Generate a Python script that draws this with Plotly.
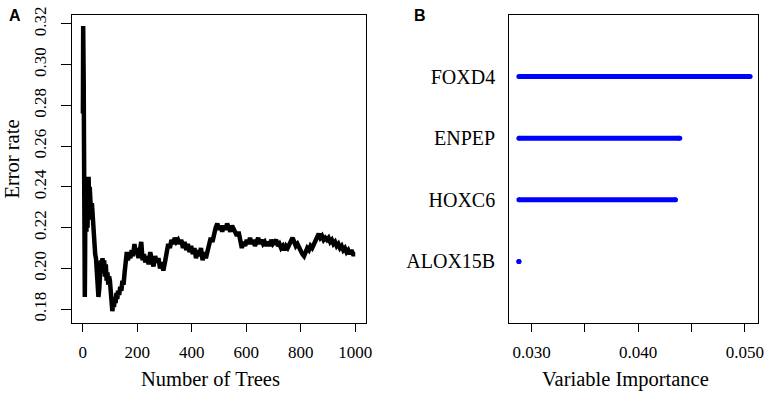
import plotly.graph_objects as go

# ---------------- Panel A data: OOB error rate vs number of trees ----------------
trees = [1, 2, 3, 4, 5, 6, 7, 8, 9, 10, 11, 12, 13, 14, 15, 16, 17, 18, 19, 20,
         22, 24, 26, 28, 30, 32, 34, 36, 38, 40,
         43, 46, 49, 52, 55, 58, 61, 64, 67, 70,
         73, 76, 79, 82, 85, 88, 91, 94, 97, 100,
         103, 106, 109, 112, 115, 118, 121, 124, 127, 130,
         134, 138, 142, 146, 150, 154, 158, 162, 166, 170,
         175, 180, 185, 190, 195, 200, 205, 210, 215, 220, 225, 230,
         236, 242, 248, 254, 260, 266, 272, 278, 284, 290, 296,
         302, 308, 314, 320, 326, 332, 338, 344, 350,
         356, 362, 368, 374, 380, 386, 392, 398, 404,
         410, 416, 422, 428, 434, 440, 446, 452, 458,
         464, 470, 476, 482, 488, 494, 500, 506, 512,
         518, 524, 530, 536, 542, 548, 554, 560, 566,
         572, 578, 584, 590, 596, 602, 608, 614, 620,
         626, 632, 638, 644, 650, 656, 662, 668, 674,
         680, 686, 692, 698, 704, 710, 716, 722, 728,
         734, 740, 746, 752, 758, 764, 770, 776, 782,
         788, 794, 800, 806, 812, 818, 824, 830, 836,
         842, 848, 854, 860, 866, 872, 878, 884, 890,
         896, 902, 908, 914, 920, 926, 932, 938, 944,
         950, 956, 962, 968, 974, 980, 986, 992, 1000]

error_rate = [0.276, 0.319, 0.300, 0.290, 0.262, 0.240, 0.210, 0.186, 0.205, 0.235,
              0.242, 0.222, 0.238, 0.218, 0.244, 0.225, 0.240, 0.220, 0.236, 0.228,
              0.245, 0.226, 0.240, 0.230, 0.236, 0.224, 0.232, 0.226, 0.222, 0.218,
              0.212, 0.207, 0.205, 0.200, 0.194, 0.186, 0.190, 0.200, 0.204, 0.202,
              0.205, 0.198, 0.204, 0.196, 0.202, 0.194, 0.198, 0.192, 0.196, 0.194,
              0.188, 0.184, 0.179, 0.183, 0.181, 0.186, 0.183, 0.188, 0.185, 0.189,
              0.187, 0.191, 0.189, 0.194, 0.192, 0.198, 0.203, 0.208, 0.204, 0.207,
              0.205, 0.209, 0.206, 0.212, 0.207, 0.210, 0.205, 0.208, 0.213, 0.204, 0.207, 0.203,
              0.206, 0.202, 0.208, 0.204, 0.201, 0.206, 0.203, 0.205, 0.200, 0.203, 0.199,
              0.203, 0.208, 0.212, 0.210, 0.214, 0.212, 0.215, 0.213, 0.214,
              0.212, 0.214, 0.210, 0.213, 0.209, 0.212, 0.208, 0.211, 0.207,
              0.210, 0.205, 0.209, 0.206, 0.210, 0.204, 0.208, 0.205, 0.209,
              0.212, 0.215, 0.213, 0.217, 0.220, 0.222, 0.219, 0.221, 0.218,
              0.221, 0.219, 0.222, 0.220, 0.218, 0.221, 0.219, 0.217, 0.216,
              0.218, 0.214, 0.210, 0.213, 0.211, 0.214, 0.212, 0.215, 0.212,
              0.214, 0.211, 0.213, 0.215, 0.212, 0.214, 0.212, 0.213, 0.211,
              0.213, 0.211, 0.214, 0.212, 0.213, 0.214, 0.211, 0.212, 0.210,
              0.211, 0.209, 0.211, 0.210, 0.212, 0.213, 0.215, 0.213, 0.211,
              0.212, 0.210, 0.209, 0.207, 0.206, 0.208, 0.210, 0.209, 0.211,
              0.210, 0.212, 0.214, 0.216, 0.217, 0.215, 0.216, 0.214, 0.215,
              0.214, 0.215, 0.213, 0.214, 0.212, 0.213, 0.211, 0.212, 0.210,
              0.211, 0.209, 0.210, 0.208, 0.209, 0.207, 0.209, 0.207, 0.207]

a_xticks = [0, 200, 400, 600, 800, 1000]
a_yticks = [0.18, 0.20, 0.22, 0.24, 0.26, 0.28, 0.30, 0.32]

# ---------------- Panel B data: variable importance ----------------
genes = ["ALOX15B", "HOXC6", "ENPEP", "FOXD4"]
importance = [0.0288, 0.0435, 0.0439, 0.0505]
b_xticks = [0.030, 0.035, 0.040, 0.045, 0.050]
b_xticklabels = ["0.030", "", "0.040", "", "0.050"]

SERIF = "Liberation Serif"
SANS = "Liberation Sans"
BLUE = "#0000FF"

fig = go.Figure()

fig.add_trace(go.Scatter(x=trees, y=error_rate, mode="lines",
                         line=dict(color="black", width=4.5),
                         xaxis="x", yaxis="y", showlegend=False))

base = min(importance)
for g, v in zip(genes, importance):
    fig.add_trace(go.Scatter(x=[base, v], y=[g, g], mode="lines+markers",
                             line=dict(color=BLUE, width=5),
                             marker=dict(color=BLUE, size=5, line=dict(width=0)),
                             xaxis="x2", yaxis="y2", showlegend=False))

axis_common = dict(showline=True, mirror=True, linecolor="black", linewidth=1,
                   ticks="outside", tickcolor="black", tickwidth=1,
                   showgrid=False, zeroline=False,
                   tickfont=dict(family=SERIF, size=17, color="black"))

fig.update_layout(
    width=771, height=394,
    margin=dict(l=72, r=7, t=12, b=71),
    paper_bgcolor="white", plot_bgcolor="white",
    xaxis=dict(domain=[0, 0.4292], range=[-39, 1041], tickvals=a_xticks,
               ticklen=8, ticklabelstandoff=6, anchor="y", **axis_common),
    yaxis=dict(domain=[0, 1], range=[0.1732, 0.3244], tickvals=a_yticks, tickformat=".2f",
               tickangle=-90, ticklen=10, ticklabelstandoff=8, anchor="x", **axis_common),
    xaxis2=dict(domain=[0.6373, 1], range=[0.02789, 0.05124], tickvals=b_xticks,
                ticktext=b_xticklabels, ticklen=8, ticklabelstandoff=6,
                anchor="y2", **axis_common),
    yaxis2=dict(domain=[0, 1], type="category", categoryorder="array", categoryarray=genes,
                range=[-1, 4], showline=True, mirror=True, linecolor="black", linewidth=1,
                ticks="", showgrid=False, zeroline=False, ticklabelstandoff=9,
                tickfont=dict(family=SERIF, size=20, color="black"),
                anchor="x2"),
)

# text placed in pixel terms through paper coordinates
plot_w = 771 - 72 - 7
plot_h = 394 - 12 - 71


def px_to_paper(px, py):
    return (px - 72) / plot_w, 1 - (py - 12) / plot_h


labels = [
    ("<b>A</b>", 14, 12.5, SANS, 16, 0),
    ("<b>B</b>", 423.5, 12.5, SANS, 16, 0),
    ("Number of Trees", 212, 380, SERIF, 20.5, 0),
    ("Variable Importance", 630, 380, SERIF, 20.5, 0),
    ("Error rate", 11.5, 158, SERIF, 20.5, -90),
]
for text, lx, ly, fam, size, ang in labels:
    px_, py_ = px_to_paper(lx, ly)
    fig.add_annotation(text=text, x=px_, y=py_, xref="paper", yref="paper",
                       showarrow=False, xanchor="center", yanchor="middle", textangle=ang,
                       font=dict(family=fam, size=size, color="black"))

fig.write_html("out.html", config={"displayModeBar": False},
               post_script="document.body.style.margin='0';")
